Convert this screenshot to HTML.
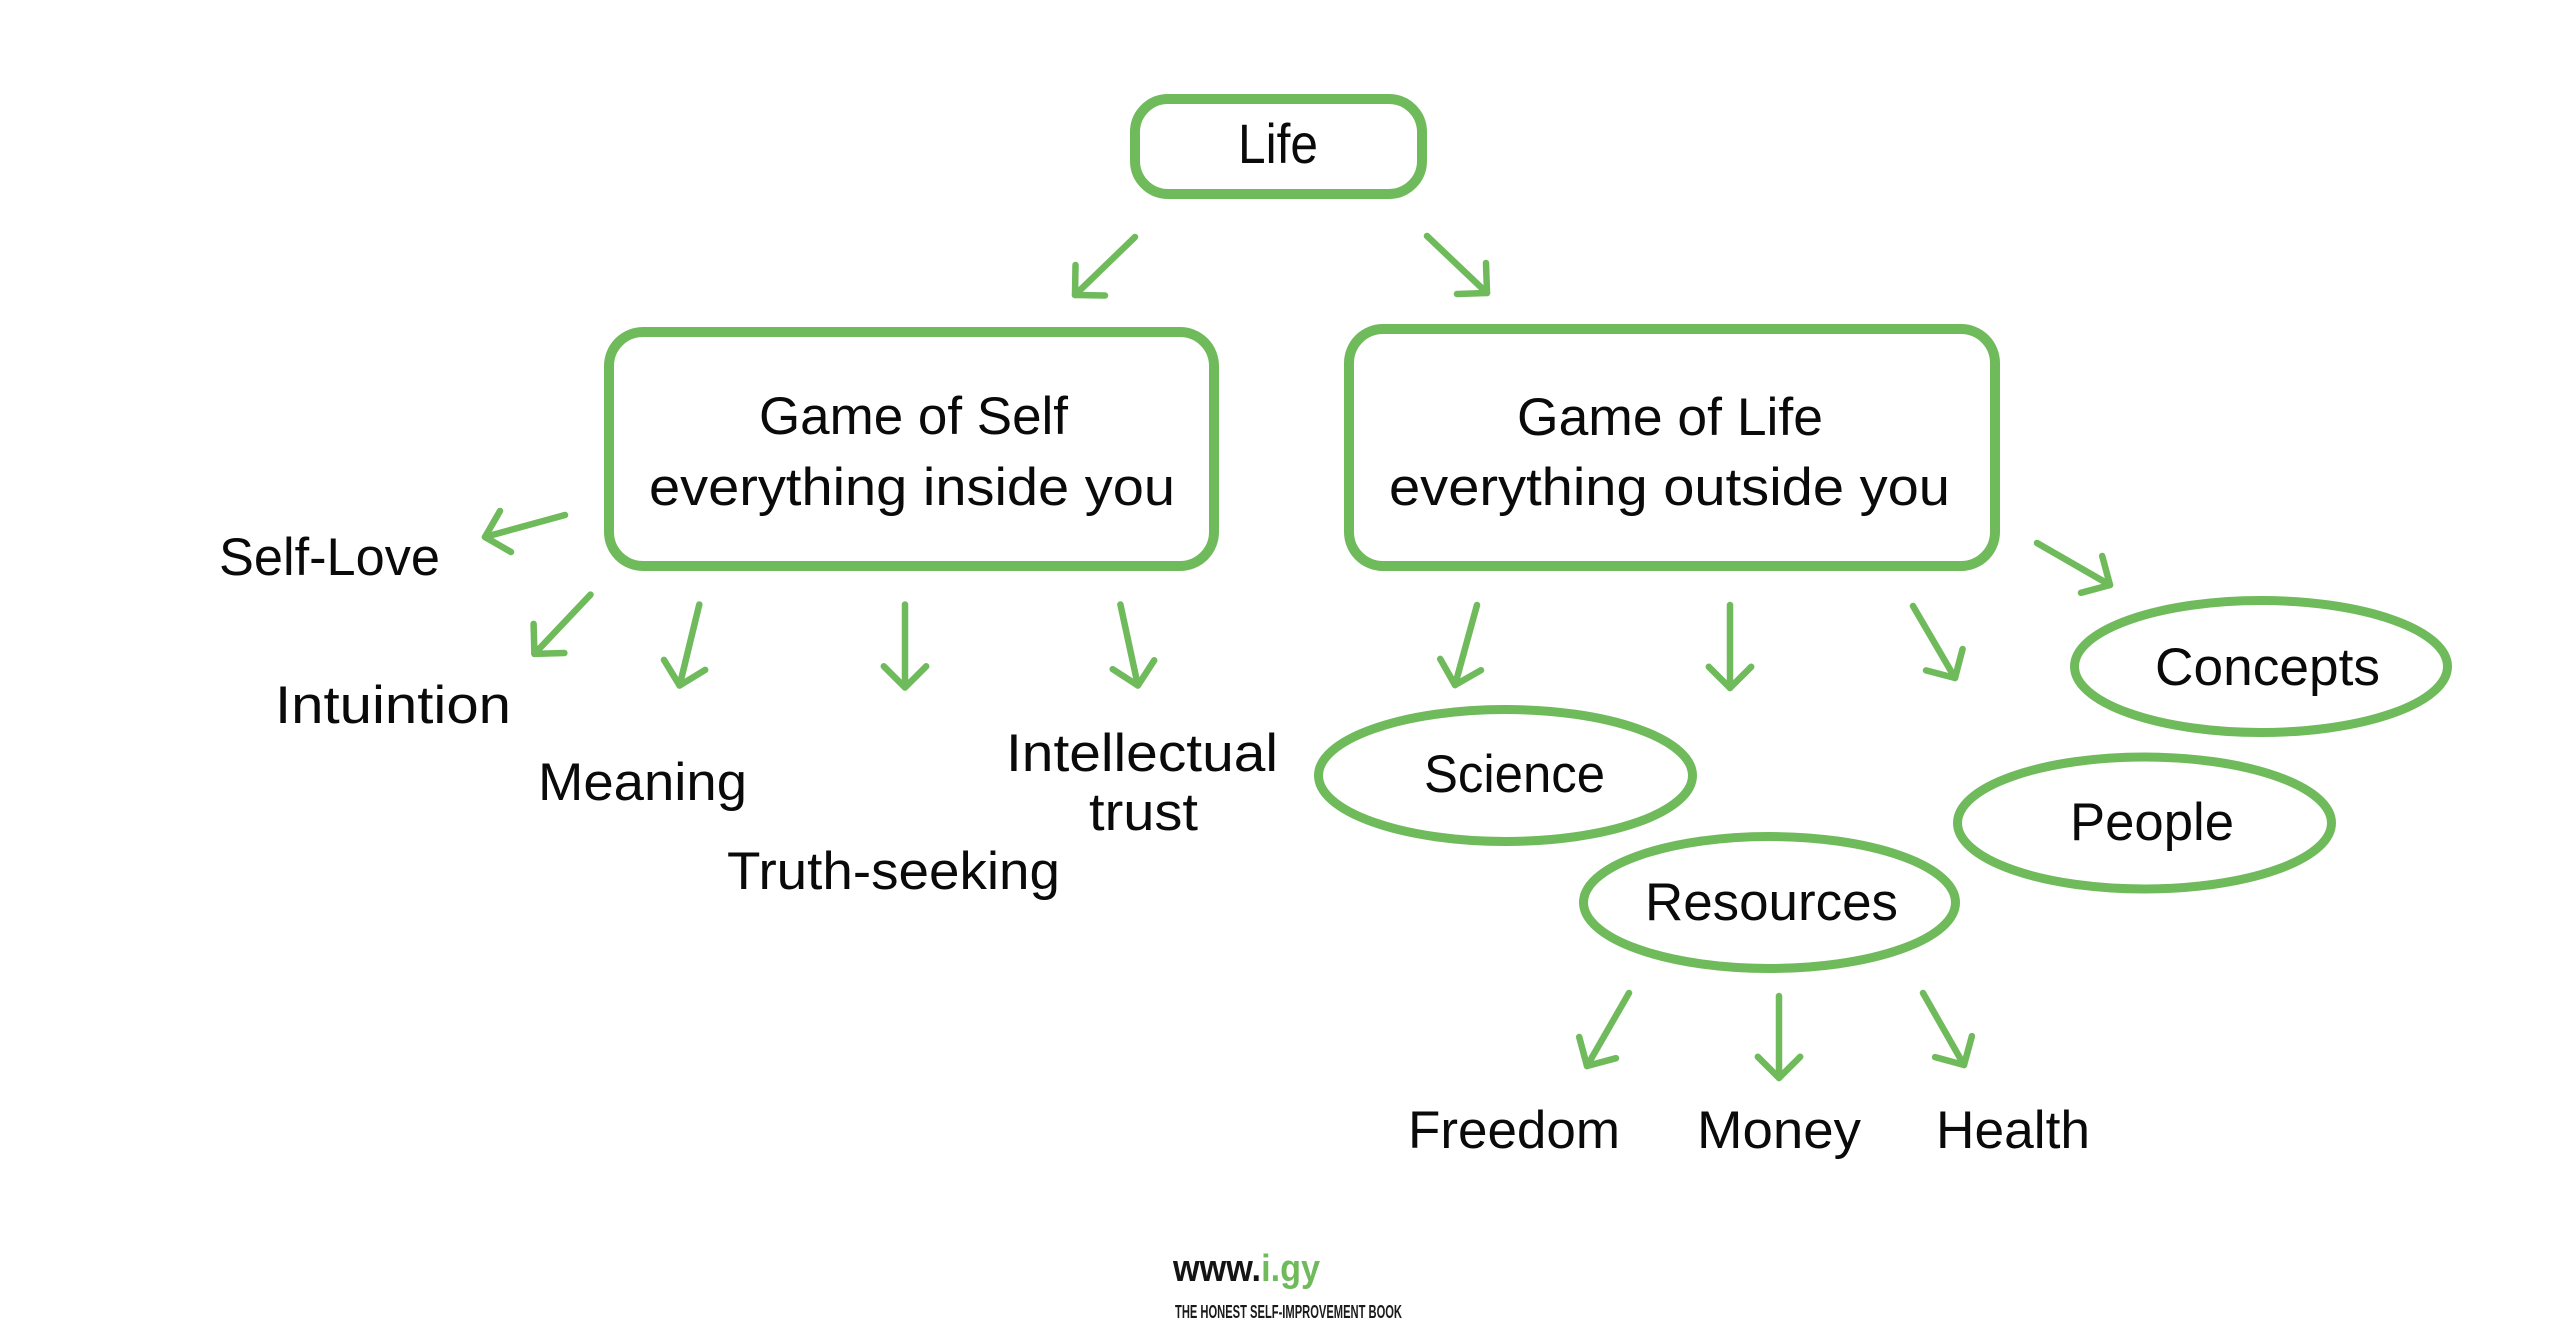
<!DOCTYPE html>
<html>
<head>
<meta charset="utf-8">
<style>
  html, body { margin: 0; padding: 0; background: #ffffff; }
  body { width: 2560px; height: 1332px; overflow: hidden; }
  svg { display: block; }
  text { font-family: "Liberation Sans", "DejaVu Sans", sans-serif; fill: #0a0a0a; }
</style>
</head>
<body>
<svg width="2560" height="1332" viewBox="0 0 2560 1332" xmlns="http://www.w3.org/2000/svg">
  <rect x="0" y="0" width="2560" height="1332" fill="#ffffff"/>

  <!-- Boxes -->
  <g fill="none" stroke="#6fba5b" stroke-width="10">
    <rect x="1135" y="99" width="287" height="95" rx="33" ry="33"/>
    <rect x="609" y="332" width="605" height="234" rx="34" ry="34"/>
    <rect x="1349" y="329" width="646" height="237" rx="34" ry="34"/>
  </g>

  <!-- Ellipses -->
  <g fill="none" stroke="#6fba5b" stroke-width="9">
    <ellipse cx="2261" cy="666.5" rx="186.5" ry="66"/>
    <ellipse cx="1505.5" cy="775.5" rx="187" ry="66"/>
    <ellipse cx="1769.5" cy="902.5" rx="186" ry="66"/>
    <ellipse cx="2144.5" cy="823" rx="187" ry="66"/>
  </g>

  <!-- Arrows -->
  <g fill="none" stroke="#6fba5b" stroke-width="6.5" stroke-linecap="round" stroke-linejoin="round">
    <line x1="1135" y1="237" x2="1075" y2="295"/>
    <polyline points="1105,295.5 1075,295 1075.5,265"/>
    <line x1="1427" y1="236" x2="1487" y2="293"/>
    <polyline points="1486,263 1487,293 1457,294"/>
    <line x1="565" y1="515" x2="485" y2="537"/>
    <polyline points="511,552 485,537 500,511"/>
    <line x1="590.5" y1="594.6" x2="534.4" y2="653.9"/>
    <polyline points="564.4,653 534.4,653.9 533.6,623.9"/>
    <line x1="699.3" y1="604.5" x2="679.6" y2="685.5"/>
    <polyline points="705.2,669.9 679.6,685.5 664,659.9"/>
    <line x1="905" y1="604.5" x2="905" y2="687.5"/>
    <polyline points="926.2,666.3 905,687.5 883.8,666.3"/>
    <line x1="1120.4" y1="604.5" x2="1137.9" y2="685.5"/>
    <polyline points="1154.2,660.3 1137.9,685.5 1112.7,669.2"/>
    <line x1="1477" y1="605" x2="1455" y2="685"/>
    <polyline points="1481,670.2 1455,685 1440.2,658.9"/>
    <line x1="1730" y1="605" x2="1730" y2="688"/>
    <polyline points="1751.2,666.8 1730,688 1708.8,666.8"/>
    <line x1="1913" y1="606" x2="1955" y2="678"/>
    <polyline points="1962.6,649 1955,678 1926,670.4"/>
    <line x1="2037" y1="543" x2="2110" y2="585"/>
    <polyline points="2102.2,556 2110,585 2081,592.8"/>
    <line x1="1629" y1="993" x2="1587" y2="1066"/>
    <polyline points="1616,1058.2 1587,1066 1579.2,1037"/>
    <line x1="1779" y1="996" x2="1779" y2="1078"/>
    <polyline points="1800.2,1056.8 1779,1078 1757.8,1056.8"/>
    <line x1="1923" y1="993" x2="1964" y2="1065"/>
    <polyline points="1971.9,1036.1 1964,1065 1935.1,1057.1"/>
  </g>

  <!-- Texts -->
  <g font-size="53">
    <text x="1238" y="163" font-size="56" textLength="80" lengthAdjust="spacingAndGlyphs">Life</text>

    <text x="759" y="434" textLength="309" lengthAdjust="spacingAndGlyphs">Game of Self</text>
    <text x="649" y="505" textLength="526" lengthAdjust="spacingAndGlyphs">everything inside you</text>

    <text x="1517" y="435" textLength="306" lengthAdjust="spacingAndGlyphs">Game of Life</text>
    <text x="1389" y="505" textLength="561" lengthAdjust="spacingAndGlyphs">everything outside you</text>

    <text x="219" y="575" textLength="221" lengthAdjust="spacingAndGlyphs">Self-Love</text>
    <text x="275" y="723" textLength="236" lengthAdjust="spacingAndGlyphs">Intuintion</text>
    <text x="538" y="800" textLength="209" lengthAdjust="spacingAndGlyphs">Meaning</text>
    <text x="727" y="889" textLength="333" lengthAdjust="spacingAndGlyphs">Truth-seeking</text>
    <text x="1006" y="771" textLength="272" lengthAdjust="spacingAndGlyphs">Intellectual</text>
    <text x="1089" y="830" textLength="109" lengthAdjust="spacingAndGlyphs">trust</text>

    <text x="2155" y="685" textLength="225" lengthAdjust="spacingAndGlyphs">Concepts</text>
    <text x="1424" y="792" textLength="181" lengthAdjust="spacingAndGlyphs">Science</text>
    <text x="1645" y="920" textLength="253" lengthAdjust="spacingAndGlyphs">Resources</text>
    <text x="2070" y="840" textLength="164" lengthAdjust="spacingAndGlyphs">People</text>

    <text x="1408" y="1148" textLength="212" lengthAdjust="spacingAndGlyphs">Freedom</text>
    <text x="1697" y="1148" textLength="164" lengthAdjust="spacingAndGlyphs">Money</text>
    <text x="1936" y="1148" textLength="154" lengthAdjust="spacingAndGlyphs">Health</text>
  </g>

  <!-- Footer -->
  <text x="1173" y="1281" font-size="38" font-weight="bold" textLength="147" lengthAdjust="spacingAndGlyphs" style="font-family:'Liberation Sans Narrow','Liberation Sans',sans-serif;"><tspan style="fill:#141414">www.</tspan><tspan style="fill:#6fba5b">i.gy</tspan></text>
  <text x="1175" y="1318" font-size="18" font-weight="bold" textLength="227" lengthAdjust="spacingAndGlyphs" style="font-family:'Liberation Sans Narrow','Liberation Sans',sans-serif; fill:#1a1a1a;">THE HONEST SELF-IMPROVEMENT BOOK</text>
</svg>
</body>
</html>
